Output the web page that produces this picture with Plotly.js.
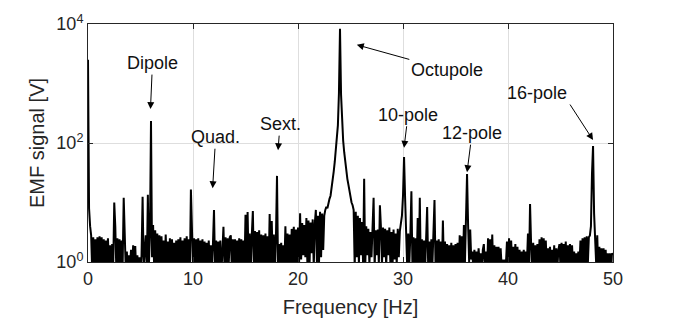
<!DOCTYPE html>
<html>
<head>
<meta charset="utf-8">
<script src="https://cdn.plot.ly/plotly-3.0.1.min.js"></script>
<style>
  html, body { margin: 0; padding: 0; background: #fff; }
  #chart { width: 680px; height: 322px; }
</style>
</head>
<body>
<div id="chart"></div>
<script>
var freqStart = 0;
var freqStep = 0.1;

var emf0to10 = [
	2500, 8, 4, 2.8, 0.7, 2.6, 0.8, 2.4, 0.9, 2.6,
	0.7, 2.7, 0.9, 2.6, 0.6, 2.4, 0.8, 2.3, 0.7, 2.5,
	0.8, 1.9, 0.6, 2.0, 0.8, 10, 3.9, 0.7, 2.5, 0.8,
	2.4, 0.7, 2.3, 0.9, 12, 2.7, 0.7, 1.5, 0.6, 1.3,
	0.8, 1.6, 0.7, 1.9, 0.8, 1.85, 0.6, 1.3, 0.8, 1.2,
	0.7, 1.3, 12.5, 0.8, 1.6, 2.8, 0.7, 13.5, 0.9, 2.8,
	235, 1.2, 4.2, 0.8, 3.4, 0.9, 3.0, 0.8, 2.8, 0.7,
	2.7, 0.8, 2.3, 0.7, 2.9, 0.9, 2.2, 0.6, 2.5, 0.8,
	2.4, 0.7, 2.1, 0.9, 2.3, 0.6, 2.4, 0.8, 2.6, 0.7,
	2.3, 0.8, 2.5, 0.7, 2.7, 0.9, 2.4, 0.6, 16.5, 2.4
];
var emf10to20 = [
	0.8, 2.5, 0.7, 2.4, 0.9, 2.5, 0.6, 2.3, 0.8, 2.4,
	0.7, 2.2, 0.9, 2.1, 0.6, 2.3, 0.8, 1.9, 0.7, 2.0,
	7.5, 0.8, 2.3, 0.7, 2.2, 0.9, 2.3, 0.6, 2.1, 3.9,
	0.8, 2.6, 0.7, 2.5, 0.9, 2.6, 2.8, 0.7, 2.4, 0.8,
	2.4, 0.7, 2.3, 0.9, 2.5, 0.6, 2.4, 0.8, 2.3, 0.7,
	6.2, 0.9, 6.9, 0.8, 3.0, 0.7, 2.8, 7.2, 0.8, 3.3,
	0.7, 3.2, 0.9, 3.4, 0.8, 2.9, 0.7, 2.8, 0.9, 3.0,
	0.8, 2.7, 0.7, 6.4, 0.9, 4.9, 0.8, 2.9, 0.7, 2.6,
	28, 0.8, 2.0, 0.7, 2.1, 0.9, 1.9, 0.8, 4.0, 0.7,
	3.0, 0.8, 2.9, 0.7, 3.6, 0.9, 3.9, 0.8, 3.5, 0.7
];
var emf20to30 = [
	3.8, 0.9, 6.6, 1.1, 4.5, 1.3, 4.2, 1.2, 5.5, 0.8,
	5.0, 0.9, 4.6, 1.4, 5.2, 0.8, 4.4, 7.5, 1.0, 6.0,
	0.9, 7.0, 1.2, 6.5, 1.6, 6.0, 7.5, 8.5, 8.0, 10,
	11.5, 13, 17, 24, 33, 48, 75, 120, 200, 700,
	8300, 650, 190, 110, 70, 46, 34, 25, 20, 15,
	12.5, 10, 9, 7.5, 0.8, 7.0, 1.2, 6.0, 0.9, 5.5,
	1.3, 4.7, 0.9, 25, 0.8, 4.0, 1.3, 3.6, 0.9, 3.2,
	1.2, 3.0, 12, 0.8, 3.4, 1.3, 3.5, 0.9, 9, 3.8,
	0.9, 3.8, 1.2, 3.6, 0.8, 3.4, 1.3, 3.8, 0.9, 3.2,
	0.8, 3.5, 1.1, 3.0, 0.9, 3.6, 1.2, 3.3, 4.7, 6
];
var emf30to40 = [
	13, 58, 12, 4.0, 0.8, 3.0, 0.9, 2.8, 15.5, 0.8,
	2.6, 0.7, 2.5, 0.9, 5.5, 0.8, 12, 0.7, 2.4, 0.9,
	2.3, 0.7, 2.4, 8.4, 0.8, 2.2, 0.7, 2.4, 0.9, 2.3,
	11, 0.8, 2.3, 0.7, 2.4, 0.9, 2.2, 0.7, 5.0, 0.8,
	2.2, 0.7, 2.0, 0.9, 1.9, 0.6, 2.1, 0.8, 1.9, 0.7,
	2.0, 0.8, 2.1, 0.6, 2.8, 0.9, 2.7, 0.8, 4.2, 1.0,
	4.3, 30, 4.2, 1.0, 3.5, 1.1, 1.5, 0.7, 1.6, 0.8,
	1.5, 0.7, 1.7, 0.9, 1.4, 0.6, 1.6, 2.0, 0.8, 1.5,
	0.7, 2.5, 0.9, 2.4, 0.8, 2.9, 0.7, 1.9, 0.8, 1.8,
	0.9, 1.8, 0.7, 1.7, 0.8, 1.1, 0.7, 1.1, 0.9, 2.2
];
var emf40to50 = [
	0.8, 2.5, 0.7, 2.3, 0.9, 1.8, 0.8, 2.0, 0.7, 1.8,
	0.8, 1.6, 0.6, 1.5, 0.8, 1.6, 0.7, 1.5, 0.9, 3.0,
	0.8, 9.4, 2.0, 0.7, 2.1, 0.9, 1.9, 0.8, 2.0, 0.7,
	2.4, 0.9, 2.6, 0.7, 2.5, 0.8, 2.3, 0.7, 1.7, 0.9,
	1.8, 0.7, 1.6, 0.8, 1.9, 0.6, 1.7, 0.8, 1.6, 2.0,
	0.8, 2.1, 0.7, 2.0, 0.9, 2.2, 0.7, 1.9, 0.8, 2.0,
	0.7, 1.9, 0.8, 1.5, 0.7, 1.4, 0.9, 1.5, 0.8, 2.3,
	0.7, 2.5, 0.9, 2.6, 0.8, 2.7, 0.9, 2.6, 2.8, 4.0,
	31, 89, 6.5, 2.8, 0.9, 2.8, 0.7, 1.8, 0.8, 1.7,
	0.7, 1.7, 0.8, 1.6, 0.7, 1.4, 0.8, 1.4, 0.6, 1.4,
	1.3
];

// harmonic labels
var labelText = ['Dipole', 'Quad.', 'Sext.', 'Octupole', '10-pole', '12-pole', '16-pole'];

var yTickVals = [1, 100, 10000];
var yTickText = ['10<sup>0</sup>', '10<sup>2</sup>', '10<sup>4</sup>'];

var emf = emf0to10.concat(emf10to20, emf20to30, emf30to40, emf40to50);

var trace = {
	x0 : freqStart,
	dx : freqStep,
	y : emf,
	type : 'scatter',
	mode : 'lines',
	line : {color : '#000000', width : 2},
	hoverinfo : 'skip'
};

// arrow tip (x in Hz, y in log10 units) and pixel offset of the label centre
var arrowPos = [[5.95, 2.57, 2, -46], [11.87, 1.24, 3, -51], [18.1, 1.88, 2, -26], [25.6, 3.65, 90, 25],
	[30.1, 1.92, 4, -33], [36.1, 1.51, 5, -39]];
// 16-pole arrow starts off the corner of its label, so it is drawn on its own
var sixteenText = [42.8, 2.84];
var sixteenArrow = [48.1, 2.05, -24, -37];

var annos = [];
var i;
for (i = 0; i < arrowPos.length; i++) {
	annos.push({
		x : arrowPos[i][0],
		y : arrowPos[i][1],
		xref : 'x',
		yref : 'y',
		text : labelText[i],
		showarrow : true,
		arrowhead : 2,
		arrowsize : 1.4,
		arrowwidth : 1,
		arrowcolor : '#000000',
		ax : arrowPos[i][2],
		ay : arrowPos[i][3],
		font : {size : 18, color : '#111111'}
	});
}
annos.push({
	x : sixteenText[0],
	y : sixteenText[1],
	xref : 'x',
	yref : 'y',
	text : labelText[6],
	showarrow : false,
	font : {size : 18, color : '#111111'}
});
annos.push({
	x : sixteenArrow[0],
	y : sixteenArrow[1],
	xref : 'x',
	yref : 'y',
	text : '',
	showarrow : true,
	arrowhead : 2,
	arrowsize : 1.4,
	arrowwidth : 1,
	arrowcolor : '#000000',
	ax : sixteenArrow[2],
	ay : sixteenArrow[3]
});

var layout = {
	width : 680,
	height : 322,
	margin : {l : 88, r : 67, t : 24, b : 60},
	paper_bgcolor : '#ffffff',
	plot_bgcolor : '#ffffff',
	showlegend : false,
	font : {family : 'Arial, "Liberation Sans", sans-serif', size : 18, color : '#262626'},
	xaxis : {
		range : [0, 50],
		tick0 : 0,
		dtick : 10,
		showgrid : true,
		gridcolor : '#dedede',
		zeroline : false,
		showline : true,
		linecolor : '#262626',
		linewidth : 1,
		mirror : 'ticks',
		ticks : 'inside',
		ticklen : 5,
		tickcolor : '#262626',
		tickfont : {size : 18},
		title : {text : 'Frequency [Hz]', font : {size : 20}, standoff : 12}
	},
	yaxis : {
		type : 'log',
		range : [0, 4],
		tickvals : yTickVals,
		ticktext : yTickText,
		showgrid : true,
		gridcolor : '#dedede',
		zeroline : false,
		showline : true,
		linecolor : '#262626',
		linewidth : 1,
		mirror : 'ticks',
		ticks : 'inside',
		ticklen : 5,
		tickcolor : '#262626',
		tickfont : {size : 18},
		title : {text : 'EMF signal [V]', font : {size : 20}, standoff : 6}
	},
	annotations : annos
};

Plotly.newPlot('chart', [trace], layout, {displayModeBar : false, staticPlot : true});
</script>
</body>
</html>
